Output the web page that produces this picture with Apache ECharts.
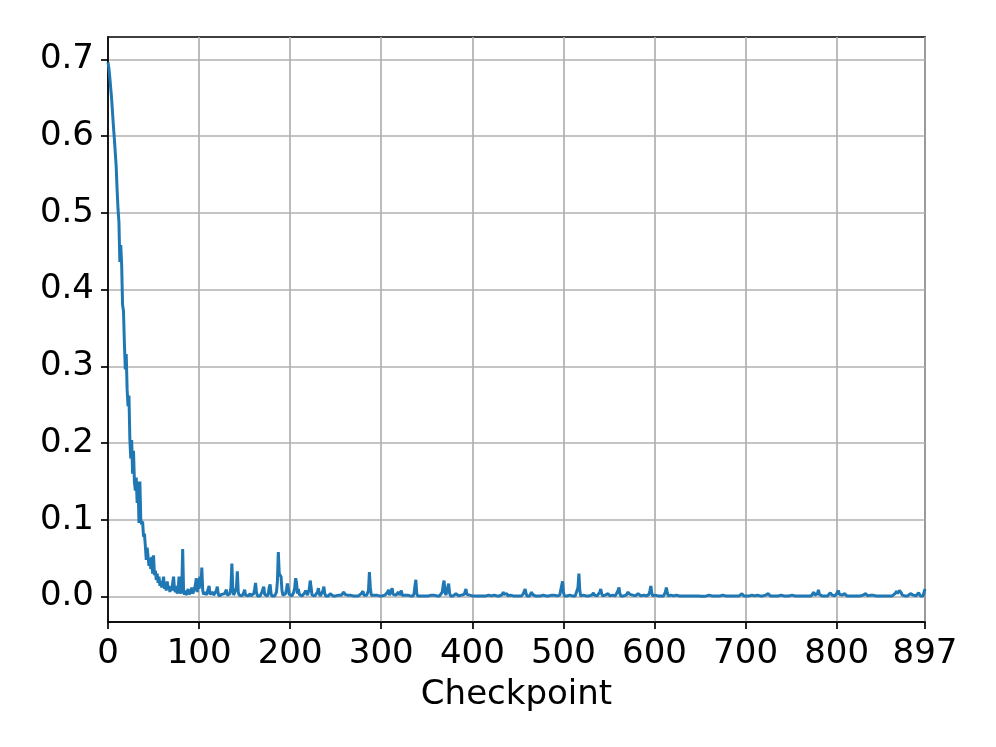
<!DOCTYPE html>
<html>
<head>
<meta charset="utf-8">
<style>
  html, body { margin: 0; padding: 0; background: #fff; }
  #chart { width: 996px; height: 747px; }
</style>
<script src="https://cdn.jsdelivr.net/npm/echarts@6/dist/echarts.min.js"></script>
</head>
<body>
<div id="chart"></div>
<script>
// loss value per checkpoint (0..897)
const lossValues = [
  0.696,0.688,0.676,0.662,0.648,0.630,0.612,0.596,0.578,0.560,
  0.530,0.505,0.488,0.436,0.458,0.432,0.380,0.372,0.330,0.296,
  0.316,0.270,0.248,0.262,0.205,0.180,0.204,0.160,0.190,0.150,
  0.138,0.155,0.122,0.150,0.096,0.150,0.100,0.094,0.098,0.078,
  0.082,0.066,0.048,0.064,0.062,0.040,0.050,0.036,0.052,0.030,
  0.054,0.028,0.034,0.022,0.030,0.018,0.026,0.014,0.020,0.012,
  0.018,0.026,0.010,0.016,0.008,0.020,0.010,0.014,0.006,0.012,
  0.008,0.018,0.026,0.010,0.006,0.014,0.004,0.010,0.026,0.008,
  0.004,0.012,0.062,0.006,0.003,0.008,0.002,0.006,0.010,0.003,
  0.002,0.006,0.012,0.004,0.002,0.010,0.016,0.024,0.006,0.024,
  0.010,0.026,0.012,0.038,0.008,0.003,0.002,0.006,0.002,0.001,
  0.004,0.014,0.003,0.001,0.002,0.006,0.002,0.001,0.004,0.008,
  0.013,0.004,0.001,0.002,0.001,0.003,0.001,0.002,0.004,0.006,
  0.009,0.002,0.001,0.002,0.004,0.012,0.043,0.010,0.002,0.001,
  0.004,0.012,0.033,0.006,0.002,0.001,0.002,0.001,0.003,0.005,
  0.009,0.002,0.001,0.002,0.001,0.003,0.004,0.001,0.001,0.002,
  0.004,0.010,0.018,0.006,0.001,0.002,0.001,0.001,0.003,0.006,
  0.008,0.013,0.003,0.001,0.002,0.001,0.004,0.012,0.016,0.004,
  0.001,0.002,0.001,0.001,0.003,0.006,0.020,0.058,0.030,0.028,
  0.026,0.008,0.002,0.001,0.002,0.004,0.010,0.017,0.016,0.003,
  0.001,0.002,0.001,0.003,0.006,0.012,0.024,0.018,0.004,0.010,
  0.003,0.001,0.002,0.001,0.001,0.003,0.005,0.008,0.009,0.002,
  0.004,0.010,0.021,0.012,0.002,0.001,0.002,0.001,0.003,0.002,
  0.006,0.011,0.004,0.001,0.002,0.005,0.008,0.013,0.004,0.001,
  0.001,0.002,0.001,0.003,0.004,0.006,0.002,0.001,0.001,0.002,
  0.001,0.001,0.003,0.002,0.001,0.001,0.002,0.001,0.004,0.006,
  0.003,0.001,0.001,0.002,0.001,0.001,0.002,0.001,0.001,0.001,
  0.002,0.001,0.001,0.002,0.001,0.001,0.001,0.003,0.004,0.006,
  0.007,0.002,0.001,0.001,0.002,0.001,0.008,0.032,0.012,0.002,
  0.001,0.001,0.002,0.001,0.001,0.002,0.003,0.001,0.001,0.001,
  0.002,0.001,0.001,0.001,0.002,0.001,0.003,0.006,0.009,0.002,
  0.001,0.004,0.011,0.003,0.001,0.001,0.002,0.001,0.003,0.006,
  0.002,0.005,0.008,0.002,0.001,0.001,0.002,0.001,0.001,0.002,
  0.001,0.003,0.001,0.001,0.002,0.001,0.004,0.014,0.022,0.004,
  0.001,0.002,0.001,0.001,0.003,0.001,0.001,0.002,0.001,0.001,
  0.001,0.002,0.001,0.001,0.001,0.002,0.001,0.001,0.002,0.001,
  0.001,0.001,0.002,0.001,0.001,0.001,0.002,0.006,0.015,0.021,
  0.006,0.002,0.004,0.012,0.017,0.005,0.001,0.001,0.002,0.001,
  0.001,0.002,0.004,0.006,0.002,0.001,0.001,0.001,0.002,0.001,
  0.001,0.003,0.006,0.010,0.003,0.001,0.001,0.002,0.001,0.001,
  0.001,0.001,0.002,0.001,0.001,0.001,0.001,0.002,0.003,0.001,
  0.001,0.001,0.001,0.002,0.001,0.001,0.001,0.001,0.002,0.003,
  0.001,0.001,0.001,0.001,0.002,0.001,0.001,0.001,0.001,0.001,
  0.001,0.002,0.001,0.003,0.006,0.003,0.002,0.003,0.004,0.001,
  0.001,0.001,0.002,0.001,0.001,0.001,0.001,0.002,0.001,0.001,
  0.001,0.001,0.001,0.002,0.001,0.002,0.004,0.007,0.010,0.004,
  0.001,0.001,0.002,0.001,0.003,0.006,0.003,0.001,0.001,0.001,
  0.001,0.002,0.001,0.001,0.001,0.001,0.001,0.001,0.002,0.001,
  0.001,0.001,0.001,0.002,0.001,0.001,0.001,0.002,0.001,0.001,
  0.002,0.001,0.002,0.001,0.002,0.001,0.002,0.001,0.004,0.020,
  0.006,0.001,0.001,0.002,0.001,0.001,0.001,0.002,0.001,0.001,
  0.001,0.002,0.001,0.001,0.001,0.002,0.012,0.030,0.008,0.001,
  0.001,0.001,0.002,0.001,0.001,0.001,0.001,0.002,0.001,0.001,
  0.001,0.002,0.004,0.005,0.002,0.001,0.001,0.001,0.002,0.001,
  0.006,0.010,0.004,0.001,0.001,0.001,0.002,0.001,0.003,0.004,
  0.002,0.001,0.001,0.001,0.002,0.001,0.001,0.001,0.002,0.003,
  0.008,0.012,0.004,0.001,0.001,0.002,0.001,0.001,0.001,0.002,
  0.003,0.006,0.007,0.003,0.001,0.001,0.002,0.001,0.001,0.001,
  0.001,0.002,0.004,0.006,0.003,0.001,0.001,0.001,0.002,0.001,
  0.001,0.001,0.002,0.001,0.003,0.008,0.014,0.005,0.001,0.001,
  0.001,0.002,0.001,0.001,0.001,0.001,0.002,0.001,0.001,0.001,
  0.001,0.002,0.006,0.012,0.006,0.001,0.001,0.001,0.002,0.001,
  0.001,0.001,0.001,0.001,0.002,0.001,0.001,0.001,0.001,0.001,
  0.001,0.002,0.002,0.001,0.001,0.001,0.001,0.0005,0.001,0.001,
  0.0005,0.001,0.001,0.001,0.0005,0.001,0.001,0.0005,0.001,0.001,
  0.0005,0.0005,0.001,0.001,0.0005,0.001,0.001,0.001,0.001,0.002,
  0.002,0.004,0.002,0.001,0.001,0.001,0.001,0.001,0.0005,0.001,
  0.001,0.001,0.001,0.001,0.001,0.002,0.003,0.001,0.001,0.001,
  0.001,0.001,0.001,0.0005,0.001,0.001,0.001,0.001,0.002,0.001,
  0.001,0.001,0.001,0.001,0.002,0.003,0.004,0.002,0.001,0.001,
  0.001,0.001,0.001,0.001,0.001,0.001,0.001,0.002,0.003,0.001,
  0.001,0.001,0.001,0.002,0.001,0.001,0.001,0.001,0.001,0.001,
  0.001,0.001,0.002,0.001,0.002,0.004,0.002,0.001,0.001,0.001,
  0.001,0.002,0.001,0.001,0.001,0.002,0.001,0.001,0.001,0.002,
  0.001,0.001,0.001,0.001,0.002,0.001,0.001,0.001,0.001,0.002,
  0.001,0.002,0.001,0.001,0.001,0.001,0.002,0.001,0.001,0.001,
  0.001,0.001,0.002,0.001,0.001,0.001,0.001,0.001,0.002,0.001,
  0.001,0.001,0.001,0.001,0.002,0.006,0.002,0.001,0.001,0.004,
  0.009,0.003,0.001,0.001,0.001,0.001,0.002,0.001,0.001,0.001,
  0.001,0.002,0.003,0.005,0.007,0.002,0.001,0.002,0.001,0.002,
  0.004,0.003,0.008,0.003,0.003,0.002,0.002,0.001,0.002,0.004,
  0.002,0.001,0.001,0.001,0.001,0.001,0.001,0.001,0.001,0.001,
  0.001,0.001,0.001,0.001,0.001,0.001,0.001,0.001,0.001,0.002,
  0.002,0.003,0.004,0.002,0.001,0.001,0.001,0.002,0.001,0.003,
  0.002,0.001,0.001,0.001,0.001,0.001,0.001,0.001,0.001,0.001,
  0.001,0.001,0.001,0.002,0.001,0.001,0.001,0.001,0.001,0.001,
  0.001,0.001,0.001,0.002,0.004,0.005,0.007,0.004,0.006,0.008,
  0.010,0.005,0.002,0.001,0.001,0.001,0.001,0.002,0.001,0.001,
  0.002,0.004,0.006,0.004,0.002,0.001,0.001,0.001,0.001,0.002,
  0.005,0.003,0.001,0.001,0.002,0.001,0.006,0.010
]

const xTicks = [0, 100, 200, 300, 400, 500, 600, 700, 800, 897]
const yTicks = [0, 0.1, 0.2, 0.3, 0.4, 0.5, 0.6, 0.7]

const chart = echarts.init(document.getElementById('chart'), null, { renderer: 'canvas' })

const font = 'DejaVu Sans'
const fontSize = 34

chart.setOption({
  animation: false,
  grid: {
    left: 108, right: 71, top: 37, bottom: 125,
    show: true, borderColor: '#000', borderWidth: 1.7,
  },
  xAxis: {
    type: 'value',
    min: 0,
    max: 897,
    name: 'Checkpoint',
    nameLocation: 'middle',
    nameGap: 56,
    nameTextStyle: { fontFamily: font, fontSize: fontSize, color: '#000' },
    axisLine: { show: true, onZero: false, lineStyle: { color: '#000', width: 1.7 } },
    axisTick: { show: true, customValues: xTicks, length: 7, lineStyle: { color: '#000', width: 1.7 } },
    axisLabel: {
      customValues: xTicks, margin: 15,
      fontFamily: font, fontSize: fontSize, color: '#000',
      formatter: (v) => String(Math.round(v)),
    },
    splitLine: { show: true, lineStyle: { color: '#b0b0b0', width: 1.7 } },
  },
  yAxis: {
    type: 'value',
    min: -0.033,
    max: 0.729,
    axisLine: { show: true, onZero: false, lineStyle: { color: '#000', width: 1.7 } },
    axisTick: { show: true, customValues: yTicks, length: 7, lineStyle: { color: '#000', width: 1.7 } },
    axisLabel: {
      customValues: yTicks, margin: 14,
      fontFamily: font, fontSize: fontSize, color: '#000',
      formatter: (v) => v.toFixed(1),
    },
    splitLine: { show: true, lineStyle: { color: '#b0b0b0', width: 1.7 } },
  },
  series: [{
    type: 'line',
    data: lossValues.map((v, i) => [i, v]),
    showSymbol: false,
    symbol: 'none',
    lineStyle: { color: '#1f77b4', width: 3 },
    clip: true,
  }],
})
</script>
</body>
</html>
